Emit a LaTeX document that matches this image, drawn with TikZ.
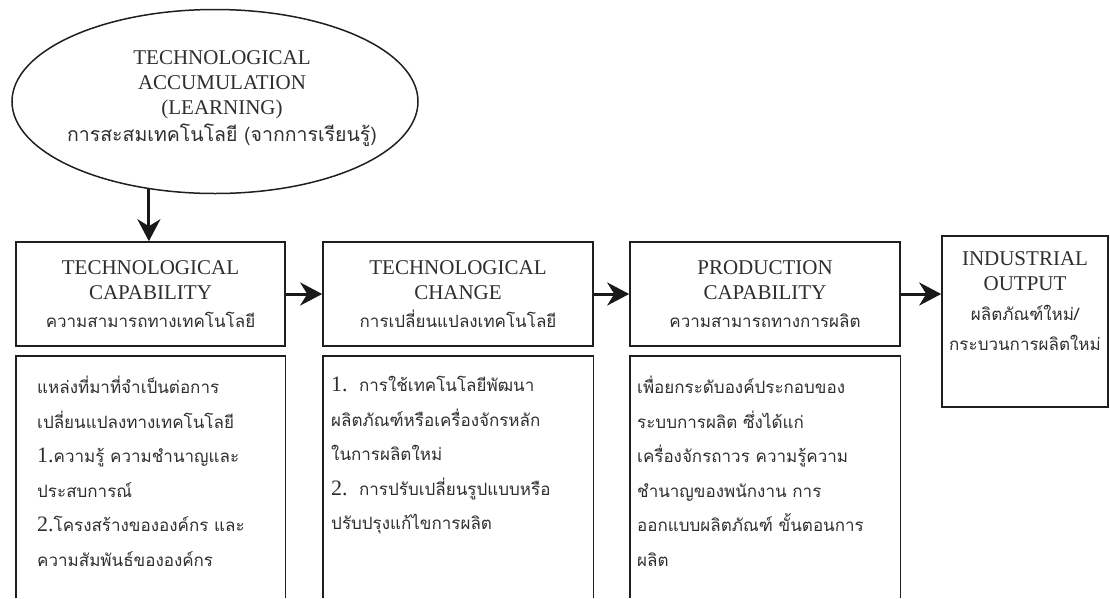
\documentclass[tikz,border=0pt]{standalone}
\usepackage{fontspec}
\setmainfont{Liberation Serif}
\newfontfamily\thaifont[Script=Thai]{Loma}
\newfontfamily\enfont{Liberation Serif}
\usetikzlibrary{shapes.geometric,arrows.meta}
\tikzset{
  box/.style={draw=black!88, line width=1.6pt, rectangle, inner sep=0pt},
  head/.style={align=center, font=\fontsize{21}{25}\selectfont, text=black!82},
  arr/.style={line width=3pt, draw=black!90, -{Stealth[length=22pt,width=23pt,inset=7pt]}},
  body/.style={align=left, anchor=north west, inner sep=0pt, font=\fontsize{17}{34.5}\selectfont\thaifont, text=black!82},
}
\newcommand{\thl}[1]{{\thaifont\fontsize{17}{25}\selectfont #1}}
\newcommand{\num}[1]{{\enfont\fontsize{22}{25}\selectfont #1}}
\begin{document}
\begin{tikzpicture}[x=1pt,y=-1pt]
\useasboundingbox (0,0) rectangle (1110,598);
% ellipse
\node[ellipse, draw=black!88, line width=1.5pt, minimum width=406pt, minimum height=184pt, inner sep=0pt] (e) at (215,101.5) {};
\node[head, inner sep=0pt] (et) at (222,99)
  {TECHNOLOGICAL\\ACCUMULATION\\(LEARNING)\\[2pt]{\thaifont\fontsize{19.5}{25}\selectfont การสะสมเทคโนโลยี (จากการเรียนรู้)}};
% header boxes
\node[box, head, minimum width=269pt, minimum height=104pt] (b1) at (150.5,294)
  {TECHNOLOGICAL\\CAPABILITY\\[3pt]\thl{ความสามารถทางเทคโนโลยี}};
\node[box, head, minimum width=270pt, minimum height=104pt] (b2) at (458,294)
  {TECHNOLOGICAL\\CHANGE\\[3pt]\thl{การเปลี่ยนแปลงเทคโนโลยี}};
\node[box, head, minimum width=270pt, minimum height=104pt] (b3) at (765,294)
  {PRODUCTION\\CAPABILITY\\[3pt]\thl{ความสามารถทางการผลิต}};
\node[box, minimum width=166pt, minimum height=171pt, anchor=north] (b4) at (1025,235) {};
\node[head, anchor=north, inner sep=0pt] (b4t) at (1025,251)
  {INDUSTRIAL\\OUTPUT\\[5pt]\thl{ผลิตภัณฑ์ใหม่/}\\[5pt]\thl{กระบวนการผลิตใหม่}};
% body boxes (open at the bottom)
\node[minimum width=269pt, minimum height=242pt, anchor=north west, inner sep=0pt] (d1) at (16,356) {};
\node[minimum width=270pt, minimum height=242pt, anchor=north west, inner sep=0pt] (d2) at (323,356) {};
\node[minimum width=270pt, minimum height=242pt, anchor=north west, inner sep=0pt] (d3) at (630,356) {};
\foreach \d in {d1,d2,d3}{
  \draw[box] (\d.south west) -- (\d.north west) -- (\d.north east) -- (\d.south east);
}
\node[body] (t1) at (37,376)
  {แหล่งที่มาที่จำเป็นต่อการ\\
   เปลี่ยนแปลงทางเทคโนโลยี\\
   \num{1.}ความรู้ ความชำนาญและ\\
   ประสบการณ์\\
   \num{2.}โครงสร้างขององค์กร และ\\
   ความสัมพันธ์ขององค์กร};
\node[body] (t2) at (331,376)
  {\num{1.}\ \ การใช้เทคโนโลยีพัฒนา\\
   ผลิตภัณฑ์หรือเครื่องจักรหลัก\\
   ในการผลิตใหม่\\
   \num{2.}\ \ การปรับเปลี่ยนรูปแบบหรือ\\
   ปรับปรุงแก้ไขการผลิต};
\node[body] (t3) at (637,376)
  {เพื่อยกระดับองค์ประกอบของ\\
   ระบบการผลิต ซึ่งได้แก่\\
   เครื่องจักรถาวร ความรู้ความ\\
   ชำนาญของพนักงาน การ\\
   ออกแบบผลิตภัณฑ์ ขั้นตอนการ\\
   ผลิต};
% arrows
\draw[arr] (e.233.3) -- (e.233.3 |- b1.north);
\draw[arr] (b1.east) -- (b2.west);
\draw[arr] (b2.east) -- (b3.west);
\draw[arr] (b3.east) -- (b3.east -| b4.west);
\end{tikzpicture}
\end{document}
